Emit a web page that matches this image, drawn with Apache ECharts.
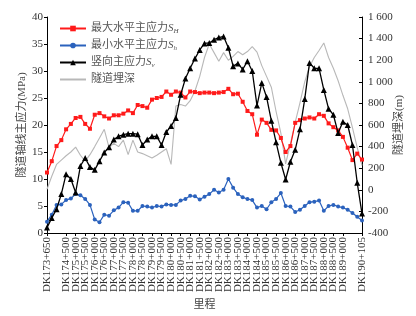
<!DOCTYPE html>
<html><head><meta charset="utf-8">
<script src="https://cdn.jsdelivr.net/npm/echarts@6/dist/echarts.min.js"></script>
<style>html,body{margin:0;padding:0;background:#fff}#c{width:416px;height:316px}</style>
</head><body><div id="c"></div>
<script>
// Tick labels (mileage) along the x axis
const tickLabels = ['DK173+650','DK174+000','DK174+500','DK175+000','DK175+500','DK176+000','DK176+500',
  'DK177+000','DK177+500','DK178+000','DK178+500','DK179+000','DK179+500','DK180+000','DK180+500',
  'DK181+000','DK181+500','DK182+000','DK182+500','DK183+000','DK183+500','DK184+000','DK184+500',
  'DK185+000','DK185+500','DK186+000','DK186+500','DK187+000','DK187+500','DK188+000','DK188+500',
  'DK189+000','DK189+500','DK190+105'];
// samples per tick interval
const stepsPerTick = 2;
// Maximum horizontal principal stress S_H (MPa)
const shMax = [11.2,13.3,16.1,17.2,19.2,20.2,21.3,21.5,20.2,19.3,
  21.9,22.2,21.6,21.2,21.8,21.8,22.1,22.7,22.2,23.7,
  23.5,23.2,24.7,25.0,25.2,26.2,25.6,26.2,26.0,25.1,
  26.2,26.1,25.9,26.0,26.0,25.9,26.0,26.1,26.7,25.7,
  25.8,24.3,22.6,22.0,18.2,21.0,20.4,19.1,19.0,17.6,
  15.0,16.1,20.4,20.9,21.2,21.4,21.2,22.0,21.7,20.3,
  19.6,19.0,17.8,15.8,13.5,14.7,13.6];
// Minimum horizontal principal stress S_h (MPa)
const shMin = [2.1,3.4,5.2,5.3,6.1,6.4,7.2,7.0,6.3,5.2,
  2.5,2.0,3.4,3.2,4.2,4.7,5.7,5.6,4.1,4.1,
  5.0,4.9,4.7,5.0,4.9,5.3,5.2,5.2,6.0,6.3,
  6.9,6.8,6.2,6.7,7.2,8.0,7.5,8.0,10.0,8.4,
  7.2,6.6,6.3,6.1,4.7,5.0,4.4,5.7,6.3,7.4,
  5.0,4.9,3.9,4.3,5.0,5.7,5.8,6.0,4.1,5.0,
  5.2,4.9,4.7,4.3,3.7,3.0,2.3];
// Vertical principal stress S_v (MPa)
const sv = [1.0,2.8,4.4,7.2,10.9,10.0,7.5,12.4,13.9,12.2,
  11.7,13.3,14.9,15.9,17.3,17.9,18.2,18.4,18.4,18.3,
  16.3,17.3,17.9,17.9,16.3,18.7,19.8,21.3,25.6,28.6,
  30.5,32.3,33.9,35.1,35.2,35.8,36.2,36.4,34.3,30.9,
  31.4,30.3,31.8,30.0,23.6,27.8,25.2,20.8,16.8,13.0,
  9.9,13.2,15.4,19.2,24.8,31.5,30.5,30.5,26.5,23.0,
  21.9,18.5,20.6,20.0,16.3,9.3,3.6];
// Tunnel burial depth (m)
const depth = [5,125,235,275,315,350,395,320,265,325,
  400,480,560,390,430,400,460,325,460,350,
  335,315,295,320,350,380,235,775,790,775,
  825,915,1050,1225,1350,1270,1190,1270,1200,1235,
  1280,1250,1280,1325,1275,1150,1050,950,725,525,
  240,425,625,805,1000,1140,1225,1290,1360,1225,
  1125,1010,875,750,575,390,225];

const FONT = "'Liberation Serif','Times New Roman','Noto Sans CJK SC',serif";
const toXY = arr => arr.map((v, i) => [i / stepsPerTick, v]);

const chart = echarts.init(document.getElementById('c'), null, {renderer: 'canvas'});
const legendRich = {
  t: {fontFamily: FONT, fontSize: 11, color: '#555'},
  s: {fontFamily: FONT, fontSize: 11, fontStyle: 'italic', color: '#555'},
  sub: {fontFamily: FONT, fontSize: 7, fontStyle: 'italic', color: '#555', padding: [6, 0, 0, 0]}
};
const legendNames = {
  'SH': '{t|最大水平主应力}{s|S}{sub|H}',
  'Sh': '{t|最小水平主应力}{s|S}{sub|h}',
  'Sv': '{t|竖向主应力}{s|S}{sub|v}',
  'D': '{t|隧道埋深}'
};
chart.setOption({
  animation: false,
  backgroundColor: '#fff',
  textStyle: {fontFamily: FONT},
  grid: {left: 47, right: 54, top: 17, bottom: 82},
  legend: {
    orient: 'vertical', left: 54, top: 18, itemWidth: 26, itemHeight: 7, itemGap: 5,
    data: ['SH', 'Sh', 'Sv', {name: 'D', itemStyle: {opacity: 0}}],
    formatter: n => legendNames[n],
    textStyle: {rich: legendRich, padding: [0, 0, 0, 0]}
  },
  xAxis: {
    type: 'value', min: 0, max: tickLabels.length - 1, interval: 1,
    name: '里程', nameLocation: 'middle', nameGap: 67, nameMoveOverlap: false,
    nameTextStyle: {fontFamily: FONT, fontSize: 11, color: '#444'},
    axisLine: {lineStyle: {color: '#000', width: 1}},
    axisTick: {show: true, inside: false, length: 3, lineStyle: {color: '#000'}},
    axisLabel: {rotate: 90, margin: 4, fontSize: 11, color: '#333', fontFamily: FONT,
      showMinLabel: true, showMaxLabel: true, hideOverlap: false,
      formatter: v => tickLabels[Math.round(v)] || ''},
    splitLine: {show: false}
  },
  yAxis: [{
    type: 'value', min: 0, max: 40, interval: 5, position: 'left',
    name: '隧道轴线主应力(MPa)', nameLocation: 'middle', nameGap: 19, nameRotate: 90,
    nameMoveOverlap: false,
    nameTextStyle: {fontFamily: FONT, fontSize: 11, color: '#444'},
    axisLine: {show: true, lineStyle: {color: '#000', width: 1}},
    axisTick: {show: true, inside: false, length: 3, lineStyle: {color: '#000'}},
    axisLabel: {margin: 4, fontSize: 11, color: '#333', fontFamily: FONT},
    splitLine: {show: false}
  }, {
    type: 'value', min: -400, max: 1600, interval: 200, position: 'right',
    name: '隧道埋深(m)', nameLocation: 'middle', nameGap: 32, nameRotate: 90,
    nameMoveOverlap: false,
    nameTextStyle: {fontFamily: FONT, fontSize: 11, color: '#444'},
    axisLine: {show: true, lineStyle: {color: '#000', width: 1}},
    axisTick: {show: true, inside: true, length: 3, lineStyle: {color: '#000'}},
    axisLabel: {margin: 6, fontSize: 11, color: '#333', fontFamily: FONT,
      formatter: v => {
        const s = String(Math.abs(v)).replace(/\B(?=(\d{3})+(?!\d))/g, ' ');
        return (v < 0 ? '-' : '') + s;
      }},
    splitLine: {show: false}
  }],
  series: [{
    name: 'SH', type: 'line', data: toXY(shMax), yAxisIndex: 0,
    symbol: 'rect', symbolSize: 4, color: '#ff1a1a',
    lineStyle: {width: 1.2, color: '#ff1a1a'}, itemStyle: {color: '#ff1a1a'}, z: 4
  }, {
    name: 'Sh', type: 'line', data: toXY(shMin), yAxisIndex: 0,
    symbol: 'circle', symbolSize: 4, color: '#2b62bd',
    lineStyle: {width: 1.2, color: '#2b62bd'}, itemStyle: {color: '#2b62bd'}, z: 4
  }, {
    name: 'Sv', type: 'line', data: toXY(sv), yAxisIndex: 0,
    symbol: 'triangle', symbolSize: 6, color: '#000',
    lineStyle: {width: 1.3, color: '#000'}, itemStyle: {color: '#000'}, z: 5
  }, {
    name: 'D', type: 'line', data: toXY(depth), yAxisIndex: 1,
    symbol: 'none', showSymbol: false, color: '#b8b8b8',
    lineStyle: {width: 1.1, color: '#b8b8b8'}, z: 3
  }]
});
</script></body></html>
